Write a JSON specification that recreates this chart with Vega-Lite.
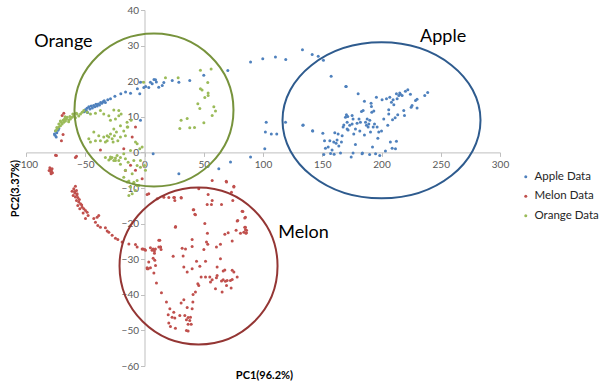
{
  "$schema": "https://vega.github.io/schema/vega-lite/v6.json",
  "autosize": "none",
  "width": 474,
  "height": 356,
  "padding": {"left": 26, "top": 10, "right": 100, "bottom": 26},
  "background": "white",
  "config": {"view": {"stroke": null}, "font": "Lato"},
  "datasets": {
    "points": [
      {"series":"Apple Data","pc1":-76,"pc2":5.2},{"series":"Apple Data","pc1":-74.5,"pc2":4.3},{"series":"Apple Data","pc1":-75,"pc2":6},{"series":"Apple Data","pc1":-72.3,"pc2":6.7},{"series":"Apple Data","pc1":-74,"pc2":5.5},{"series":"Apple Data","pc1":-73,"pc2":6.2},{"series":"Apple Data","pc1":-75.5,"pc2":4.8},
      {"series":"Apple Data","pc1":-51,"pc2":11.4},{"series":"Apple Data","pc1":-50,"pc2":12},{"series":"Apple Data","pc1":-49,"pc2":11.6},{"series":"Apple Data","pc1":-48.5,"pc2":12.4},{"series":"Apple Data","pc1":-48,"pc2":11.2},{"series":"Apple Data","pc1":-47,"pc2":12.8},{"series":"Apple Data","pc1":-46,"pc2":12.2},{"series":"Apple Data","pc1":-45,"pc2":13},{"series":"Apple Data","pc1":-44,"pc2":12.5},{"series":"Apple Data","pc1":-43,"pc2":13.2},{"series":"Apple Data","pc1":-42,"pc2":12.8},{"series":"Apple Data","pc1":-41,"pc2":13.5},{"series":"Apple Data","pc1":-40,"pc2":13},{"series":"Apple Data","pc1":-39,"pc2":13.6},{"series":"Apple Data","pc1":-38,"pc2":13.3},{"series":"Apple Data","pc1":-37,"pc2":14},{"series":"Apple Data","pc1":-36,"pc2":13.8},{"series":"Apple Data","pc1":-35,"pc2":14.2},{"series":"Apple Data","pc1":-34,"pc2":14.5},{"series":"Apple Data","pc1":-33,"pc2":14},{"series":"Apple Data","pc1":-31,"pc2":14.8},
      {"series":"Apple Data","pc1":-28.7,"pc2":15.1},{"series":"Apple Data","pc1":-25,"pc2":15.8},{"series":"Apple Data","pc1":-20,"pc2":16.5},{"series":"Apple Data","pc1":-16,"pc2":17},{"series":"Apple Data","pc1":-11.8,"pc2":16.6},{"series":"Apple Data","pc1":-6,"pc2":17.9},{"series":"Apple Data","pc1":-4,"pc2":16.5},{"series":"Apple Data","pc1":-3.4,"pc2":19.7},{"series":"Apple Data","pc1":-0.6,"pc2":18.2},{"series":"Apple Data","pc1":1,"pc2":18.5},{"series":"Apple Data","pc1":3.6,"pc2":18.2},{"series":"Apple Data","pc1":5,"pc2":19.7},{"series":"Apple Data","pc1":6.5,"pc2":19.3},{"series":"Apple Data","pc1":8,"pc2":20.5},{"series":"Apple Data","pc1":9.3,"pc2":20.4},{"series":"Apple Data","pc1":10,"pc2":19.8},{"series":"Apple Data","pc1":12,"pc2":18.3},{"series":"Apple Data","pc1":15,"pc2":18.8},{"series":"Apple Data","pc1":16.3,"pc2":19.6},{"series":"Apple Data","pc1":23.4,"pc2":20.2},{"series":"Apple Data","pc1":29,"pc2":19.7},{"series":"Apple Data","pc1":38.2,"pc2":20.2},{"series":"Apple Data","pc1":50,"pc2":21.7},{"series":"Apple Data","pc1":70.3,"pc2":23},{"series":"Apple Data","pc1":89.5,"pc2":25.4},{"series":"Apple Data","pc1":99.8,"pc2":26.3},{"series":"Apple Data","pc1":110.5,"pc2":26.8},{"series":"Apple Data","pc1":119.2,"pc2":26.1},{"series":"Apple Data","pc1":133.3,"pc2":28.8},{"series":"Apple Data","pc1":141.5,"pc2":27.5},{"series":"Apple Data","pc1":146.6,"pc2":27},{"series":"Apple Data","pc1":151,"pc2":25.9},{"series":"Apple Data","pc1":157.5,"pc2":21.4},{"series":"Apple Data","pc1":170.2,"pc2":18.5},
      {"series":"Apple Data","pc1":7.3,"pc2":-0.4},{"series":"Apple Data","pc1":72.6,"pc2":-2.7},{"series":"Apple Data","pc1":89.5,"pc2":-1.3},{"series":"Apple Data","pc1":62.7,"pc2":-4.6},{"series":"Apple Data","pc1":29,"pc2":-6},{"series":"Apple Data","pc1":-3.4,"pc2":9},{"series":"Apple Data","pc1":102.7,"pc2":8.5},{"series":"Apple Data","pc1":102,"pc2":5.7},{"series":"Apple Data","pc1":107,"pc2":5.2},{"series":"Apple Data","pc1":111.6,"pc2":5.2},{"series":"Apple Data","pc1":119,"pc2":8.5},{"series":"Apple Data","pc1":101.5,"pc2":1},{"series":"Apple Data","pc1":133.6,"pc2":7.6},{"series":"Apple Data","pc1":141.8,"pc2":6.1},
      {"series":"Apple Data","pc1":133.9,"pc2":7.7},{"series":"Apple Data","pc1":142,"pc2":6},{"series":"Apple Data","pc1":150.5,"pc2":5.4},{"series":"Apple Data","pc1":151.9,"pc2":3.3},{"series":"Apple Data","pc1":152.7,"pc2":1.2},{"series":"Apple Data","pc1":151.3,"pc2":-0.6},{"series":"Apple Data","pc1":156.4,"pc2":3.3},{"series":"Apple Data","pc1":158.3,"pc2":0.7},{"series":"Apple Data","pc1":159.7,"pc2":2.9},{"series":"Apple Data","pc1":160.6,"pc2":5.5},{"series":"Apple Data","pc1":161.7,"pc2":2.6},{"series":"Apple Data","pc1":162.5,"pc2":3.5},{"series":"Apple Data","pc1":163.4,"pc2":5.2},{"series":"Apple Data","pc1":165.4,"pc2":-0.2},{"series":"Apple Data","pc1":166.2,"pc2":2.9},{"series":"Apple Data","pc1":166.8,"pc2":4.7},{"series":"Apple Data","pc1":167.6,"pc2":7.1},{"series":"Apple Data","pc1":168.2,"pc2":7.7},{"series":"Apple Data","pc1":169.6,"pc2":9.9},{"series":"Apple Data","pc1":170.4,"pc2":10.6},{"series":"Apple Data","pc1":171.5,"pc2":10.1},{"series":"Apple Data","pc1":171,"pc2":8.5},{"series":"Apple Data","pc1":171,"pc2":6.6},{"series":"Apple Data","pc1":171.8,"pc2":6.3},{"series":"Apple Data","pc1":173.2,"pc2":7.6},{"series":"Apple Data","pc1":174.4,"pc2":-1.3},{"series":"Apple Data","pc1":175.2,"pc2":10.4},{"series":"Apple Data","pc1":175.2,"pc2":8},{"series":"Apple Data","pc1":176,"pc2":9.4},{"series":"Apple Data","pc1":176.6,"pc2":5.2},{"series":"Apple Data","pc1":178,"pc2":6.6},{"series":"Apple Data","pc1":179.4,"pc2":8.2},{"series":"Apple Data","pc1":180.3,"pc2":16.5},{"series":"Apple Data","pc1":181,"pc2":9.4},{"series":"Apple Data","pc1":181.7,"pc2":6},{"series":"Apple Data","pc1":182.2,"pc2":8.5},{"series":"Apple Data","pc1":183.1,"pc2":11.5},{"series":"Apple Data","pc1":183.9,"pc2":-0.2},{"series":"Apple Data","pc1":184.5,"pc2":11.8},{"series":"Apple Data","pc1":185.6,"pc2":14.4},{"series":"Apple Data","pc1":185.6,"pc2":4.9},{"series":"Apple Data","pc1":186.5,"pc2":8.5},{"series":"Apple Data","pc1":187.3,"pc2":7.6},{"series":"Apple Data","pc1":187.9,"pc2":9.4},{"series":"Apple Data","pc1":188.7,"pc2":7.1},{"series":"Apple Data","pc1":189.3,"pc2":8},{"series":"Apple Data","pc1":190.1,"pc2":9},{"series":"Apple Data","pc1":190.7,"pc2":5.7},{"series":"Apple Data","pc1":191.2,"pc2":13.8},{"series":"Apple Data","pc1":191.5,"pc2":12.9},{"series":"Apple Data","pc1":191.8,"pc2":11.3},{"series":"Apple Data","pc1":192.4,"pc2":1.5},{"series":"Apple Data","pc1":193,"pc2":7.1},{"series":"Apple Data","pc1":193.5,"pc2":11.6},{"series":"Apple Data","pc1":194.1,"pc2":8},{"series":"Apple Data","pc1":195,"pc2":-0.4},{"series":"Apple Data","pc1":195.7,"pc2":15.5},{"series":"Apple Data","pc1":196.3,"pc2":7.1},{"series":"Apple Data","pc1":196.9,"pc2":4},{"series":"Apple Data","pc1":197.7,"pc2":5.7},{"series":"Apple Data","pc1":198.5,"pc2":-0.9},{"series":"Apple Data","pc1":200,"pc2":6},{"series":"Apple Data","pc1":200.5,"pc2":14.8},{"series":"Apple Data","pc1":201.9,"pc2":9.4},{"series":"Apple Data","pc1":203.3,"pc2":0.4},{"series":"Apple Data","pc1":204.2,"pc2":15.1},{"series":"Apple Data","pc1":205.3,"pc2":7.6},{"series":"Apple Data","pc1":206.1,"pc2":10.8},{"series":"Apple Data","pc1":206.1,"pc2":12},{"series":"Apple Data","pc1":207,"pc2":15.5},{"series":"Apple Data","pc1":207.5,"pc2":2.9},{"series":"Apple Data","pc1":208.4,"pc2":14.1},{"series":"Apple Data","pc1":209,"pc2":1.2},{"series":"Apple Data","pc1":209.3,"pc2":9.2},{"series":"Apple Data","pc1":209.8,"pc2":14.8},{"series":"Apple Data","pc1":210.4,"pc2":13.4},{"series":"Apple Data","pc1":211.5,"pc2":9.7},{"series":"Apple Data","pc1":211.8,"pc2":1},{"series":"Apple Data","pc1":212.6,"pc2":16.5},{"series":"Apple Data","pc1":212.6,"pc2":3.1},{"series":"Apple Data","pc1":213.2,"pc2":15.1},{"series":"Apple Data","pc1":213.7,"pc2":10.6},{"series":"Apple Data","pc1":214.6,"pc2":16},{"series":"Apple Data","pc1":215.4,"pc2":16.7},{"series":"Apple Data","pc1":216,"pc2":16.3},{"series":"Apple Data","pc1":217.4,"pc2":16},{"series":"Apple Data","pc1":218.8,"pc2":11.8},{"series":"Apple Data","pc1":219.4,"pc2":10.4},{"series":"Apple Data","pc1":220.2,"pc2":17.2},{"series":"Apple Data","pc1":222.2,"pc2":17.6},{"series":"Apple Data","pc1":224.4,"pc2":16.3},{"series":"Apple Data","pc1":225,"pc2":12.7},{"series":"Apple Data","pc1":225.8,"pc2":13.2},{"series":"Apple Data","pc1":228.7,"pc2":14.6},{"series":"Apple Data","pc1":230,"pc2":14.9},{"series":"Apple Data","pc1":230,"pc2":12.5},{"series":"Apple Data","pc1":236.5,"pc2":16},{"series":"Apple Data","pc1":239,"pc2":16.8},{"series":"Apple Data","pc1":169.9,"pc2":18.5},{"series":"Apple Data","pc1":183.6,"pc2":-0.4},{"series":"Apple Data","pc1":157,"pc2":-0.3},{"series":"Apple Data","pc1":160,"pc2":-0.5},{"series":"Apple Data","pc1":176,"pc2":-0.2},{"series":"Apple Data","pc1":190,"pc2":-0.6},{"series":"Apple Data","pc1":155,"pc2":1.5},{"series":"Apple Data","pc1":164,"pc2":1.8},{"series":"Apple Data","pc1":178,"pc2":2.2},

      {"series":"Melon Data","pc1":-79.9,"pc2":-4.3},{"series":"Melon Data","pc1":-79.4,"pc2":-4.9},{"series":"Melon Data","pc1":-78.5,"pc2":-5.2},{"series":"Melon Data","pc1":-77.7,"pc2":-5.7},{"series":"Melon Data","pc1":-80.5,"pc2":-5.1},{"series":"Melon Data","pc1":-78,"pc2":-4.6},{"series":"Melon Data","pc1":-78.8,"pc2":-6},{"series":"Melon Data","pc1":-79,"pc2":-5.5},
      {"series":"Melon Data","pc1":-75.1,"pc2":-0.8},{"series":"Melon Data","pc1":-57.4,"pc2":-1.1},{"series":"Melon Data","pc1":-68.1,"pc2":11},{"series":"Melon Data","pc1":-69.5,"pc2":10.4},{"series":"Melon Data","pc1":-70.1,"pc2":3.3},{"series":"Melon Data","pc1":-68.7,"pc2":5},{"series":"Melon Data","pc1":-74.3,"pc2":-0.9},{"series":"Melon Data","pc1":-58.3,"pc2":-1.4},{"series":"Melon Data","pc1":-37.2,"pc2":0.7},{"series":"Melon Data","pc1":-17.5,"pc2":1},{"series":"Melon Data","pc1":-7.6,"pc2":7.1},{"series":"Melon Data","pc1":-10.4,"pc2":4.3},{"series":"Melon Data","pc1":-16.1,"pc2":-5.1},{"series":"Melon Data","pc1":-2,"pc2":-7.4},{"series":"Melon Data","pc1":-7.6,"pc2":-5},{"series":"Melon Data","pc1":-11.8,"pc2":-3.6},{"series":"Melon Data","pc1":3.6,"pc2":-11.6},
      {"series":"Melon Data","pc1":-58.3,"pc2":-9.5},{"series":"Melon Data","pc1":-59.7,"pc2":-10.2},{"series":"Melon Data","pc1":-57.4,"pc2":-10.7},{"series":"Melon Data","pc1":-61.1,"pc2":-10.9},{"series":"Melon Data","pc1":-58.8,"pc2":-11.4},{"series":"Melon Data","pc1":-56.9,"pc2":-11.6},{"series":"Melon Data","pc1":-60.2,"pc2":-12.1},{"series":"Melon Data","pc1":-58.3,"pc2":-12.5},{"series":"Melon Data","pc1":-56.3,"pc2":-12.7},{"series":"Melon Data","pc1":-57.4,"pc2":-13.5},{"series":"Melon Data","pc1":-55.5,"pc2":-13.9},{"series":"Melon Data","pc1":-54,"pc2":-14.4},{"series":"Melon Data","pc1":-56.3,"pc2":-14.9},{"series":"Melon Data","pc1":-52.6,"pc2":-15.4},{"series":"Melon Data","pc1":-51.2,"pc2":-15.8},{"series":"Melon Data","pc1":-54.6,"pc2":-15.8},{"series":"Melon Data","pc1":-49.8,"pc2":-16.3},{"series":"Melon Data","pc1":-48.4,"pc2":-16.8},{"series":"Melon Data","pc1":-51.8,"pc2":-17},{"series":"Melon Data","pc1":-47.6,"pc2":-17.7},{"series":"Melon Data","pc1":-49.8,"pc2":-18.6},{"series":"Melon Data","pc1":-42.8,"pc2":-18.6},{"series":"Melon Data","pc1":-40,"pc2":-18.2},{"series":"Melon Data","pc1":-38.6,"pc2":-17.7},{"series":"Melon Data","pc1":-41.4,"pc2":-19.6},{"series":"Melon Data","pc1":-39.4,"pc2":-20.5},{"series":"Melon Data","pc1":-37.2,"pc2":-21},{"series":"Melon Data","pc1":-33,"pc2":-21.2},{"series":"Melon Data","pc1":-31.5,"pc2":-22.1},{"series":"Melon Data","pc1":-30.1,"pc2":-22.4},{"series":"Melon Data","pc1":-27.3,"pc2":-23.3},{"series":"Melon Data","pc1":-24.5,"pc2":-24.1},{"series":"Melon Data","pc1":-22.5,"pc2":-24.5},{"series":"Melon Data","pc1":-18.9,"pc2":-25.2},{"series":"Melon Data","pc1":-13.2,"pc2":-25.7},{"series":"Melon Data","pc1":-7.6,"pc2":-25.9},{"series":"Melon Data","pc1":-6.2,"pc2":-26.6},{"series":"Melon Data","pc1":-2,"pc2":-27.1},{"series":"Melon Data","pc1":0.2,"pc2":-27.3},{"series":"Melon Data","pc1":6.4,"pc2":-27.5},{"series":"Melon Data","pc1":9.2,"pc2":-27.1},{"series":"Melon Data","pc1":12.1,"pc2":-26.6},{"series":"Melon Data","pc1":-59,"pc2":-11},{"series":"Melon Data","pc1":-57,"pc2":-12},{"series":"Melon Data","pc1":-55,"pc2":-13.2},{"series":"Melon Data","pc1":-53,"pc2":-14.8},
      {"series":"Melon Data","pc1":2.2,"pc2":-11.8},{"series":"Melon Data","pc1":10.7,"pc2":-13},{"series":"Melon Data","pc1":20.5,"pc2":-12.7},{"series":"Melon Data","pc1":24.7,"pc2":-12.7},{"series":"Melon Data","pc1":25.6,"pc2":-13.5},{"series":"Melon Data","pc1":30.9,"pc2":-12.7},{"series":"Melon Data","pc1":45.8,"pc2":-10.2},{"series":"Melon Data","pc1":57.1,"pc2":-7.9},{"series":"Melon Data","pc1":69.2,"pc2":-8.3},{"series":"Melon Data","pc1":75.4,"pc2":-9.7},{"series":"Melon Data","pc1":53.7,"pc2":-11.8},{"series":"Melon Data","pc1":57.1,"pc2":-13.5},{"series":"Melon Data","pc1":52.9,"pc2":-14.6},{"series":"Melon Data","pc1":56.5,"pc2":-14.6},{"series":"Melon Data","pc1":65,"pc2":-14.6},{"series":"Melon Data","pc1":74.5,"pc2":-13.5},{"series":"Melon Data","pc1":41.6,"pc2":-16.1},{"series":"Melon Data","pc1":43,"pc2":-17.5},{"series":"Melon Data","pc1":82.4,"pc2":-16.5},{"series":"Melon Data","pc1":84.6,"pc2":-18.4},{"series":"Melon Data","pc1":78.2,"pc2":-19.3},{"series":"Melon Data","pc1":50.9,"pc2":-20},{"series":"Melon Data","pc1":26.1,"pc2":-21},{"series":"Melon Data","pc1":84.6,"pc2":-21},{"series":"Melon Data","pc1":85.2,"pc2":-21.7},{"series":"Melon Data","pc1":83.8,"pc2":-22.4},{"series":"Melon Data","pc1":86,"pc2":-22.6},{"series":"Melon Data","pc1":77.3,"pc2":-21.9},{"series":"Melon Data","pc1":81,"pc2":-22.7},{"series":"Melon Data","pc1":70.6,"pc2":-22.6},{"series":"Melon Data","pc1":67.8,"pc2":-23},{"series":"Melon Data","pc1":53.1,"pc2":-22.7},{"series":"Melon Data","pc1":74,"pc2":-24.9},{"series":"Melon Data","pc1":40.2,"pc2":-24.5},{"series":"Melon Data","pc1":52.3,"pc2":-25.2},{"series":"Melon Data","pc1":53.4,"pc2":-25.8},{"series":"Melon Data","pc1":64.1,"pc2":-25.8},{"series":"Melon Data","pc1":60.7,"pc2":-26.6},{"series":"Melon Data","pc1":40.2,"pc2":-26.4},{"series":"Melon Data","pc1":50.1,"pc2":-27.3},{"series":"Melon Data","pc1":34.6,"pc2":-27.1},{"series":"Melon Data","pc1":31.8,"pc2":-26.9},{"series":"Melon Data","pc1":12.9,"pc2":-24.7},{"series":"Melon Data","pc1":7.3,"pc2":-27.1},{"series":"Melon Data","pc1":8.4,"pc2":-27.7},{"series":"Melon Data","pc1":13.5,"pc2":-26.6},{"series":"Melon Data","pc1":14,"pc2":-27.3},{"series":"Melon Data","pc1":5,"pc2":-26.8},{"series":"Melon Data","pc1":-1.2,"pc2":-27.1},{"series":"Melon Data","pc1":0.8,"pc2":-27.5},{"series":"Melon Data","pc1":8.4,"pc2":-28.3},{"series":"Melon Data","pc1":24.2,"pc2":-29.2},{"series":"Melon Data","pc1":32.6,"pc2":-29.1},{"series":"Melon Data","pc1":8.7,"pc2":-30.3},{"series":"Melon Data","pc1":3.6,"pc2":-30.8},{"series":"Melon Data","pc1":3.1,"pc2":-32.7},{"series":"Melon Data","pc1":2.2,"pc2":-32.4},{"series":"Melon Data","pc1":5,"pc2":-32.4},{"series":"Melon Data","pc1":9.3,"pc2":-31.8},{"series":"Melon Data","pc1":7.9,"pc2":-33.9},{"series":"Melon Data","pc1":33.2,"pc2":-32.2},{"series":"Melon Data","pc1":40.2,"pc2":-32.7},{"series":"Melon Data","pc1":43.9,"pc2":-30.6},{"series":"Melon Data","pc1":51.5,"pc2":-30.6},{"series":"Melon Data","pc1":64.1,"pc2":-29.9},{"series":"Melon Data","pc1":36,"pc2":-33.6},{"series":"Melon Data","pc1":46.7,"pc2":-32},{"series":"Melon Data","pc1":61.3,"pc2":-32.2},{"series":"Melon Data","pc1":74,"pc2":-33.1},{"series":"Melon Data","pc1":75.4,"pc2":-33.6},{"series":"Melon Data","pc1":78.2,"pc2":-35},{"series":"Melon Data","pc1":67.8,"pc2":-33},{"series":"Melon Data","pc1":66.4,"pc2":-33.3},{"series":"Melon Data","pc1":47.8,"pc2":-35},{"series":"Melon Data","pc1":51.5,"pc2":-35},{"series":"Melon Data","pc1":55.1,"pc2":-35},{"series":"Melon Data","pc1":57.1,"pc2":-35.8},{"series":"Melon Data","pc1":55.7,"pc2":-36.4},{"series":"Melon Data","pc1":61.3,"pc2":-34.6},{"series":"Melon Data","pc1":60.7,"pc2":-35.2},{"series":"Melon Data","pc1":65,"pc2":-36.1},{"series":"Melon Data","pc1":66.4,"pc2":-35.8},{"series":"Melon Data","pc1":68.3,"pc2":-36.2},{"series":"Melon Data","pc1":69.7,"pc2":-36},{"series":"Melon Data","pc1":72.5,"pc2":-36},{"series":"Melon Data","pc1":74,"pc2":-35.7},{"series":"Melon Data","pc1":69.2,"pc2":-37.4},{"series":"Melon Data","pc1":73.1,"pc2":-38.1},{"series":"Melon Data","pc1":59.9,"pc2":-38.3},{"series":"Melon Data","pc1":65.5,"pc2":-39.2},{"series":"Melon Data","pc1":45.8,"pc2":-37.4},{"series":"Melon Data","pc1":45,"pc2":-36.9},{"series":"Melon Data","pc1":43,"pc2":-39.2},{"series":"Melon Data","pc1":41,"pc2":-39.9},{"series":"Melon Data","pc1":10.1,"pc2":-36.7},{"series":"Melon Data","pc1":14.3,"pc2":-39.4},{"series":"Melon Data","pc1":18.5,"pc2":-42},{"series":"Melon Data","pc1":30.9,"pc2":-42.3},{"series":"Melon Data","pc1":33.2,"pc2":-41.4},{"series":"Melon Data","pc1":40.8,"pc2":-42},{"series":"Melon Data","pc1":36,"pc2":-43.6},{"series":"Melon Data","pc1":40.2,"pc2":-43.9},{"series":"Melon Data","pc1":21.4,"pc2":-43.9},{"series":"Melon Data","pc1":24.7,"pc2":-44.9},{"series":"Melon Data","pc1":20,"pc2":-45.6},{"series":"Melon Data","pc1":23.3,"pc2":-46.3},{"series":"Melon Data","pc1":25.6,"pc2":-46.5},{"series":"Melon Data","pc1":29.8,"pc2":-45.8},{"series":"Melon Data","pc1":34,"pc2":-45.8},{"series":"Melon Data","pc1":36.8,"pc2":-46.4},{"series":"Melon Data","pc1":38.8,"pc2":-46.3},{"series":"Melon Data","pc1":35.4,"pc2":-47},{"series":"Melon Data","pc1":38.2,"pc2":-47.2},{"series":"Melon Data","pc1":36.8,"pc2":-48.3},{"series":"Melon Data","pc1":39.4,"pc2":-48.3},{"series":"Melon Data","pc1":20.5,"pc2":-47.9},{"series":"Melon Data","pc1":21.9,"pc2":-48.9},{"series":"Melon Data","pc1":26.1,"pc2":-49.4},{"series":"Melon Data","pc1":35.4,"pc2":-50},{"series":"Melon Data","pc1":36.8,"pc2":-50.2},
      {"series":"Melon Data","pc1":69,"pc2":-8.1},{"series":"Melon Data","pc1":75.4,"pc2":-9.5},{"series":"Melon Data","pc1":73.4,"pc2":-11.2},{"series":"Melon Data","pc1":85.2,"pc2":-18.2},{"series":"Melon Data","pc1":83,"pc2":-16.6},{"series":"Melon Data","pc1":78.7,"pc2":-19.1},{"series":"Melon Data","pc1":85.2,"pc2":-21},{"series":"Melon Data","pc1":86.1,"pc2":-21.9},{"series":"Melon Data","pc1":85.6,"pc2":-22.7},{"series":"Melon Data","pc1":26.2,"pc2":-20.8},{"series":"Melon Data","pc1":13.5,"pc2":-26.6},{"series":"Melon Data","pc1":12.1,"pc2":-24.7},{"series":"Melon Data","pc1":7.3,"pc2":-29.7},{"series":"Melon Data","pc1":2.3,"pc2":-32.7},{"series":"Melon Data","pc1":16.3,"pc2":-12.6},{"series":"Melon Data","pc1":25.3,"pc2":-12.7},{"series":"Melon Data","pc1":31,"pc2":-12.8},{"series":"Melon Data","pc1":41.1,"pc2":-16.1},{"series":"Melon Data","pc1":42.5,"pc2":-17.4},

      {"series":"Orange Data","pc1":-75.1,"pc2":6.1},{"series":"Orange Data","pc1":-73.7,"pc2":6.6},{"series":"Orange Data","pc1":-72.3,"pc2":7.1},{"series":"Orange Data","pc1":-72.3,"pc2":8},{"series":"Orange Data","pc1":-70.9,"pc2":7.5},{"series":"Orange Data","pc1":-70.4,"pc2":8.5},{"series":"Orange Data","pc1":-69.5,"pc2":8},{"series":"Orange Data","pc1":-68.7,"pc2":9},{"series":"Orange Data","pc1":-68.1,"pc2":8.5},{"series":"Orange Data","pc1":-67.5,"pc2":9.4},{"series":"Orange Data","pc1":-66.7,"pc2":8.8},{"series":"Orange Data","pc1":-65.9,"pc2":9.4},{"series":"Orange Data","pc1":-65.3,"pc2":9.9},{"series":"Orange Data","pc1":-63.9,"pc2":9.1},{"series":"Orange Data","pc1":-63,"pc2":10.1},{"series":"Orange Data","pc1":-62.5,"pc2":9.4},{"series":"Orange Data","pc1":-61.1,"pc2":9.9},{"series":"Orange Data","pc1":-59.7,"pc2":10.3},{"series":"Orange Data","pc1":-58.3,"pc2":9.7},{"series":"Orange Data","pc1":-56.9,"pc2":10.8},{"series":"Orange Data","pc1":-55.5,"pc2":10.2},{"series":"Orange Data","pc1":-54,"pc2":10.8},{"series":"Orange Data","pc1":-52.6,"pc2":11.3},{"series":"Orange Data","pc1":-51.2,"pc2":11.8},{"series":"Orange Data","pc1":-74,"pc2":7},{"series":"Orange Data","pc1":-71,"pc2":8.8},{"series":"Orange Data","pc1":-67,"pc2":10},{"series":"Orange Data","pc1":-64,"pc2":8.6},{"series":"Orange Data","pc1":-60.5,"pc2":10.8},{"series":"Orange Data","pc1":-57.5,"pc2":11},
      {"series":"Orange Data","pc1":-48.4,"pc2":11.3},{"series":"Orange Data","pc1":-45.6,"pc2":10.8},{"series":"Orange Data","pc1":-41.4,"pc2":11},{"series":"Orange Data","pc1":-37.2,"pc2":11.8},{"series":"Orange Data","pc1":-34.4,"pc2":10.8},{"series":"Orange Data","pc1":-30.1,"pc2":10.3},{"series":"Orange Data","pc1":-28.7,"pc2":9},{"series":"Orange Data","pc1":-25.9,"pc2":11.9},{"series":"Orange Data","pc1":-21.7,"pc2":11.8},{"series":"Orange Data","pc1":-21.7,"pc2":10.3},{"series":"Orange Data","pc1":-19.7,"pc2":10.8},{"series":"Orange Data","pc1":-24.5,"pc2":9.4},{"series":"Orange Data","pc1":-20.3,"pc2":7.5},{"series":"Orange Data","pc1":-14.7,"pc2":8.5},{"series":"Orange Data","pc1":-11.3,"pc2":9},{"series":"Orange Data","pc1":-17.5,"pc2":6},{"series":"Orange Data","pc1":-14.1,"pc2":7.1},{"series":"Orange Data","pc1":-16.1,"pc2":4.7},
      {"series":"Orange Data","pc1":-47,"pc2":3.8},{"series":"Orange Data","pc1":-45.6,"pc2":2.9},{"series":"Orange Data","pc1":-42.8,"pc2":5.7},{"series":"Orange Data","pc1":-41.4,"pc2":3.3},{"series":"Orange Data","pc1":-38.6,"pc2":4.7},{"series":"Orange Data","pc1":-37.2,"pc2":3.3},{"series":"Orange Data","pc1":-34.4,"pc2":4.3},{"series":"Orange Data","pc1":-33,"pc2":2.9},{"series":"Orange Data","pc1":-31.5,"pc2":4.7},{"series":"Orange Data","pc1":-31.5,"pc2":3.3},{"series":"Orange Data","pc1":-30.1,"pc2":4.3},{"series":"Orange Data","pc1":-28.7,"pc2":5.2},{"series":"Orange Data","pc1":-27.3,"pc2":3.8},{"series":"Orange Data","pc1":-26.5,"pc2":2.9},{"series":"Orange Data","pc1":-25.4,"pc2":4.7},{"series":"Orange Data","pc1":-23.7,"pc2":5.7},{"series":"Orange Data","pc1":-22.5,"pc2":3.3},{"series":"Orange Data","pc1":-20.3,"pc2":4.3},{"series":"Orange Data","pc1":-25.9,"pc2":6.6},
      {"series":"Orange Data","pc1":-33,"pc2":-1.4},{"series":"Orange Data","pc1":-30.1,"pc2":-2.1},{"series":"Orange Data","pc1":-28.7,"pc2":-1.8},{"series":"Orange Data","pc1":-27.3,"pc2":-1.4},{"series":"Orange Data","pc1":-25.9,"pc2":-2.3},{"series":"Orange Data","pc1":-24.5,"pc2":-1.6},{"series":"Orange Data","pc1":-23.1,"pc2":-0.9},{"series":"Orange Data","pc1":-21.7,"pc2":-2.3},{"series":"Orange Data","pc1":-20.3,"pc2":-1.4},{"series":"Orange Data","pc1":-17.5,"pc2":-0.4},{"series":"Orange Data","pc1":-16.1,"pc2":-1.8},{"series":"Orange Data","pc1":-13.8,"pc2":-2.8},{"series":"Orange Data","pc1":-11.8,"pc2":0.5},{"series":"Orange Data","pc1":-9,"pc2":-2.3},{"series":"Orange Data","pc1":-6.2,"pc2":-3.7},{"series":"Orange Data","pc1":-3.4,"pc2":-2.3},{"series":"Orange Data","pc1":-4,"pc2":1},{"series":"Orange Data","pc1":-6.2,"pc2":2.4},
      {"series":"Orange Data","pc1":-28.7,"pc2":-1.3},{"series":"Orange Data","pc1":-24.5,"pc2":-2.3},{"series":"Orange Data","pc1":-20.3,"pc2":-3.3},{"series":"Orange Data","pc1":-16.1,"pc2":-5},{"series":"Orange Data","pc1":-17.5,"pc2":-7},{"series":"Orange Data","pc1":-13.2,"pc2":-8},{"series":"Orange Data","pc1":-10.4,"pc2":-6},{"series":"Orange Data","pc1":-9,"pc2":-8.4},{"series":"Orange Data","pc1":-6.2,"pc2":-7.9},{"series":"Orange Data","pc1":-4.8,"pc2":-9.3},{"series":"Orange Data","pc1":-3.4,"pc2":-4.2},{"series":"Orange Data","pc1":-2,"pc2":1.5},{"series":"Orange Data","pc1":0.8,"pc2":-5},{"series":"Orange Data","pc1":0,"pc2":-3.7},
      {"series":"Orange Data","pc1":-14.6,"pc2":-8.3},{"series":"Orange Data","pc1":-11.8,"pc2":-9.7},{"series":"Orange Data","pc1":-9,"pc2":-8.8},{"series":"Orange Data","pc1":-13.2,"pc2":-12.1},{"series":"Orange Data","pc1":-10.4,"pc2":-11.6},{"series":"Orange Data","pc1":-7.6,"pc2":-10.7},{"series":"Orange Data","pc1":-6.2,"pc2":-9.3},
      {"series":"Orange Data","pc1":-0.8,"pc2":19.7},{"series":"Orange Data","pc1":17.7,"pc2":21},{"series":"Orange Data","pc1":28.4,"pc2":21},{"series":"Orange Data","pc1":47.2,"pc2":23.1},{"series":"Orange Data","pc1":56.2,"pc2":23.4},{"series":"Orange Data","pc1":53.4,"pc2":19.6},{"series":"Orange Data","pc1":47.2,"pc2":17.9},{"series":"Orange Data","pc1":48.6,"pc2":17.5},{"series":"Orange Data","pc1":53.7,"pc2":16.7},{"series":"Orange Data","pc1":53.7,"pc2":16},{"series":"Orange Data","pc1":50.9,"pc2":15.4},{"series":"Orange Data","pc1":45,"pc2":13.7},{"series":"Orange Data","pc1":46.7,"pc2":12.3},{"series":"Orange Data","pc1":58.5,"pc2":12.8},{"series":"Orange Data","pc1":59.9,"pc2":11.6},{"series":"Orange Data","pc1":57.1,"pc2":10.4},{"series":"Orange Data","pc1":50.1,"pc2":8.3},{"series":"Orange Data","pc1":36,"pc2":9.5},{"series":"Orange Data","pc1":30.9,"pc2":9},{"series":"Orange Data","pc1":29.8,"pc2":6.7},{"series":"Orange Data","pc1":38.2,"pc2":6.9},{"series":"Orange Data","pc1":42.2,"pc2":7},
      {"series":"Orange Data","pc1":-7.6,"pc2":2.9},{"series":"Orange Data","pc1":-14.6,"pc2":7.1}
    ]
  },
  "layer": [
    {
      "data": {"name": "points"},
      "mark": {"type": "point", "filled": true, "size": 9, "opacity": 1, "shape": "circle"},
      "encoding": {
        "x": {"field": "pc1", "type": "quantitative"},
        "y": {"field": "pc2", "type": "quantitative"},
        "color": {
          "field": "series", "type": "nominal",
          "scale": {"domain": ["Apple Data", "Melon Data", "Orange Data"], "range": ["#4F81BD", "#C0504D", "#9BBB59"]},
          "legend": {
            "title": null, "orient": "none", "legendX": 494, "legendY": 161,
            "padding": 0, "symbolSize": 9, "symbolType": "circle", "labelFontSize": 11.5,
            "labelColor": "#262626", "labelOffset": 3, "rowPadding": 6.5, "labelFont": "Lato", "labelLimit": 200
          }
        }
      }
    },
    {
      "data": {"values": [{"fruit": "Orange", "cx": 8, "cy": 11.9}]},
      "mark": {"type": "point", "filled": false, "opacity": 1, "stroke": "#77933C", "strokeWidth": 2, "size": 25281, "shape": "M-1,0A1,0.962,0,1,1,1,0A1,0.962,0,1,1,-1,0Z"},
      "encoding": {
        "x": {"field": "cx", "type": "quantitative"},
        "y": {"field": "cy", "type": "quantitative"}
      }
    },
    {
      "data": {"values": [{"fruit": "Apple", "cx": 200, "cy": 9}]},
      "mark": {"type": "point", "filled": false, "opacity": 1, "stroke": "#2E5B8E", "strokeWidth": 2, "size": 39204, "shape": "M-1,0A1,0.788,0,1,1,1,0A1,0.788,0,1,1,-1,0Z"},
      "encoding": {
        "x": {"field": "cx", "type": "quantitative"},
        "y": {"field": "cy", "type": "quantitative"}
      }
    },
    {
      "data": {"values": [{"fruit": "Melon", "cx": 45.6, "cy": -31.9}]},
      "mark": {"type": "point", "filled": false, "opacity": 1, "stroke": "#943634", "strokeWidth": 2, "size": 24964, "shape": "M-1,0A1,0.994,0,1,1,1,0A1,0.994,0,1,1,-1,0Z"},
      "encoding": {
        "x": {"field": "cx", "type": "quantitative"},
        "y": {"field": "cy", "type": "quantitative"}
      }
    },
    {
      "data": {"values": [
        {"label": "Orange", "lx": -68.4, "ly": 30.9},
        {"label": "Apple", "lx": 252, "ly": 32.3},
        {"label": "Melon", "lx": 134.2, "ly": -22.5}
      ]},
      "mark": {"type": "text", "font": "Lato", "fontSize": 18, "color": "#000000", "align": "center", "baseline": "middle"},
      "encoding": {
        "x": {"field": "lx", "type": "quantitative"},
        "y": {"field": "ly", "type": "quantitative"},
        "text": {"field": "label"}
      }
    }
  ],
  "encoding": {
    "x": {
      "type": "quantitative",
      "scale": {"domain": [-100, 300], "nice": false, "zero": false},
      "axis": {
        "values": [-100, -50, 0, 50, 100, 150, 200, 250, 300],
        "offset": -213.6, "grid": false, "domainColor": "#BFBFBF", "tickColor": "#BFBFBF", "tickSize": 4,
        "labelFontSize": 10, "labelColor": "#595959", "labelFont": "Lato", "labelPadding": 3,
        "labelOverlap": false, "labelFlush": false, "labelBound": false,
        "title": "PC1(96.2%)", "titleFont": "Lato", "titleFontSize": 11, "titleFontWeight": "bold", "titleColor": "#000000",
        "titleX": 238, "titleY": 222.6, "titleAlign": "center", "titleBaseline": "middle"
      }
    },
    "y": {
      "type": "quantitative",
      "scale": {"domain": [-60, 40], "nice": false, "zero": false},
      "axis": {
        "values": [-60, -50, -40, -30, -20, -10, 0, 10, 20, 30, 40],
        "offset": -118.5, "grid": false, "domainColor": "#BFBFBF", "tickColor": "#BFBFBF", "tickSize": 4,
        "labelFontSize": 10, "labelColor": "#595959", "labelFont": "Lato", "labelPadding": 2,
        "labelOverlap": false, "labelFlush": false, "labelBound": false,
        "title": "PC2(3.37%)", "titleFont": "Lato", "titleFontSize": 11, "titleFontWeight": "bold", "titleColor": "#000000",
        "titleX": -129.5, "titleY": 178, "titleAngle": -90, "titleAlign": "center", "titleBaseline": "middle"
      }
    }
  }
}
